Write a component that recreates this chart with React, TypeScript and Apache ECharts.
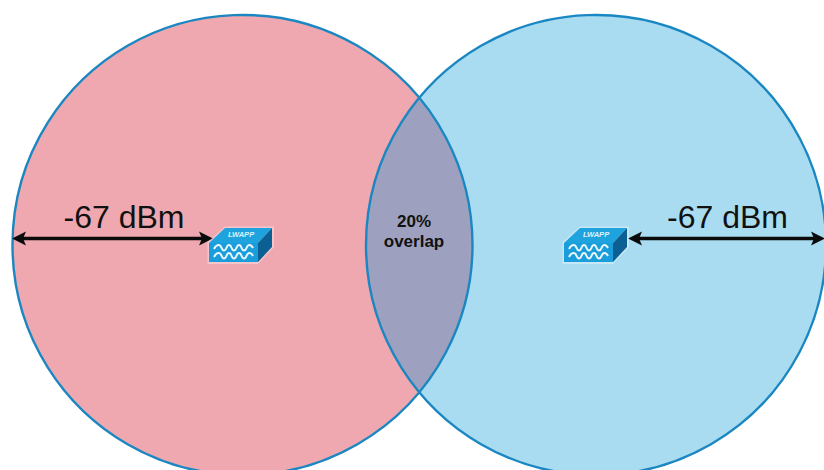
import React, { useEffect, useRef } from "react";
import * as echarts from "echarts";

const WIDTH = 824;
const HEIGHT = 470;

const FONT = '"Liberation Sans", Arial, sans-serif';

// [centre x, centre y, radius]
const leftCircle = [242.5, 245, 230];
const rightCircle = [596, 245, 230];
const circleFills = ["#EFA8AF", "#A9DCF1"];
const circleStroke = "#1B87C2";
const lensFill = "#9DA1BF";

// [tip x, tip y, other end x, other end y]
const arrows = [
  [12, 238.5, 213, 238.5],
  [825, 238.5, 628, 238.5],
];

const measureLabels = ["-67 dBm", "-67 dBm"];
const measureX = [124, 727.5];
const measureY = [217, 217];

const overlapLabels = ["20%", "overlap"];
const overlapX = [414, 414];
const overlapY = [221, 241];

// Left edge of each access-point icon
const iconX = [209, 564];
const iconY = 228;

function lensPoints(api: any) {
  const [lx, ly, r] = leftCircle;
  const [rx] = rightCircle;
  const half = Math.acos((rx - lx) / 2 / r);
  const pts: number[][] = [];
  const n = 64;
  for (let i = 0; i <= n; i++) {
    const a = -half + (2 * half * i) / n;
    pts.push(api.coord([lx + r * Math.cos(a), ly + r * Math.sin(a)]));
  }
  for (let i = 0; i <= n; i++) {
    const a = Math.PI - half + (2 * half * i) / n;
    pts.push(api.coord([rx + r * Math.cos(a), ly + r * Math.sin(a)]));
  }
  return pts;
}

function arrowShape(api: any, a: number[]) {
  const [tx, ty, ex, ey] = a;
  const dirTip = ex > tx ? 1 : -1;
  const head = 14;
  const hw = 7;
  return [
    {
      type: "line",
      shape: (() => {
        const p = api.coord([tx + dirTip * head * 0.6, ty]);
        const q = api.coord([ex - dirTip * head * 0.6, ey]);
        return { x1: p[0], y1: p[1], x2: q[0], y2: q[1] };
      })(),
      style: { stroke: "#0B0B0B", lineWidth: 3.6 },
    },
    {
      type: "polygon",
      shape: {
        points: [
          api.coord([tx, ty]),
          api.coord([tx + dirTip * head, ty - hw]),
          api.coord([tx + dirTip * (head - 3), ty]),
          api.coord([tx + dirTip * head, ty + hw]),
        ],
      },
      style: { fill: "#0B0B0B" },
    },
    {
      type: "polygon",
      shape: {
        points: [
          api.coord([ex, ey]),
          api.coord([ex - dirTip * head, ey - hw]),
          api.coord([ex - dirTip * (head - 3), ey]),
          api.coord([ex - dirTip * head, ey + hw]),
        ],
      },
      style: { fill: "#0B0B0B" },
    },
  ];
}

function iconShape(api: any, x0: number, y0: number) {
  const pt = (dx: number, dy: number) => api.coord([x0 + dx, y0 + dy]);
  const wave = (dy: number) => ({
    type: "polyline",
    shape: {
      smooth: 0.6,
      points: [
        pt(5, dy + 1),
        pt(10, dy - 3),
        pt(15, dy + 2.5),
        pt(20, dy - 3),
        pt(25, dy + 2.5),
        pt(30, dy - 3),
        pt(35, dy + 2.5),
        pt(40, dy - 3),
        pt(44, dy),
      ],
    },
    style: { stroke: "#E8F6FC", lineWidth: 2, fill: "none" },
  });
  return [
    {
      type: "polygon",
      shape: { points: [pt(16, -1.5), pt(65, -1.5), pt(65, 19), pt(49, 36), pt(-1.5, 36), pt(-1.5, 14)] },
      style: { fill: "rgba(255,255,255,0.35)" },
    },
    {
      type: "polygon",
      shape: { points: [pt(16, 0), pt(63, 0), pt(49, 15), pt(0, 15)] },
      style: { fill: "#1EA3DE" },
    },
    {
      type: "polygon",
      shape: { points: [pt(0, 15), pt(49, 15), pt(49, 34), pt(0, 34)] },
      style: { fill: "#1A9EDB" },
    },
    {
      type: "polygon",
      shape: { points: [pt(49, 15), pt(63, 0), pt(63, 19), pt(49, 34)] },
      style: { fill: "#0B5F92" },
    },
    wave(20),
    wave(28),
    {
      type: "text",
      x: pt(32, 6.5)[0],
      y: pt(32, 6.5)[1],
      style: {
        text: "LWAPP",
        fontFamily: FONT,
        fontSize: 7.5,
        fontWeight: "bold",
        fontStyle: "italic",
        fill: "#DDF2FB",
        align: "center",
        verticalAlign: "middle",
      },
    },
  ];
}

function text(api: any, label: string, x: number, y: number, size: number, weight: string) {
  const p = api.coord([x, y]);
  return {
    type: "text",
    x: p[0],
    y: p[1],
    style: {
      text: label,
      fontFamily: FONT,
      fontSize: size,
      fontWeight: weight,
      fill: "#111111",
      align: "center",
      verticalAlign: "middle",
    },
  };
}

function renderDiagram(_params: any, api: any) {
  const circles = [leftCircle, rightCircle];
  const children: any[] = [];
  circles.forEach((c, i) => {
    const p = api.coord([c[0], c[1]]);
    children.push({
      type: "circle",
      shape: { cx: p[0], cy: p[1], r: api.size([c[2], 0])[0] },
      style: { fill: circleFills[i] },
    });
  });
  children.push({ type: "polygon", shape: { points: lensPoints(api) }, style: { fill: lensFill } });
  circles.forEach((c) => {
    const p = api.coord([c[0], c[1]]);
    children.push({
      type: "circle",
      shape: { cx: p[0], cy: p[1], r: api.size([c[2], 0])[0] },
      style: { fill: "none", stroke: circleStroke, lineWidth: 2.4 },
    });
  });
  arrows.forEach((a) => children.push(...arrowShape(api, a)));
  iconX.forEach((x) => children.push(...iconShape(api, x, iconY)));
  measureLabels.forEach((l, i) => children.push(text(api, l, measureX[i], measureY[i], 32, "normal")));
  overlapLabels.forEach((l, i) => children.push(text(api, l, overlapX[i], overlapY[i], 17, "bold")));
  return { type: "group", children };
}

export default function App() {
  const ref = useRef<HTMLDivElement>(null);
  useEffect(() => {
    if (!ref.current) return;
    const chart = echarts.init(ref.current, undefined, { renderer: "svg" });
    chart.setOption({
      animation: false,
      backgroundColor: "#FFFFFF",
      grid: { left: 0, right: 0, top: 0, bottom: 0 },
      xAxis: { type: "value", min: 0, max: WIDTH, show: false },
      yAxis: { type: "value", min: 0, max: HEIGHT, inverse: true, show: false },
      series: [
        {
          type: "custom",
          coordinateSystem: "cartesian2d",
          renderItem: renderDiagram,
          data: [[leftCircle[0], leftCircle[1]]],
          clip: true,
          silent: true,
        },
      ],
    });
    return () => chart.dispose();
  }, []);
  return (
    <div
      ref={ref}
      style={{ position: "absolute", left: 0, top: 0, width: WIDTH, height: HEIGHT }}
    />
  );
}
